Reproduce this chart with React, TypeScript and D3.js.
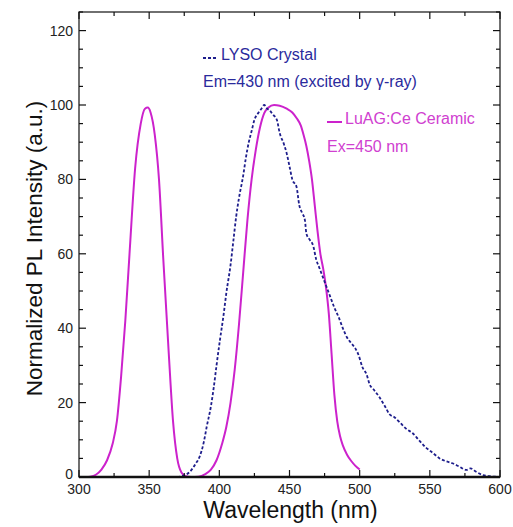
import React from 'react'
import * as d3 from 'd3'

// LuAG:Ce ceramic, excitation + emission trace (nm, normalized intensity)
const luagWave = [
  300, 305, 308, 312, 316, 320, 324, 327, 330, 333, 336, 340, 344, 347, 349, 351, 354, 357, 360, 364,
  367, 370, 373, 376, 380, 385, 390, 394, 398, 402, 405, 408, 411, 414, 417, 420, 423, 426, 429, 432,
  435, 439, 443, 448, 452, 455, 458, 460, 462, 464, 466, 468, 470, 472, 474, 476, 478, 480, 482, 484,
  486, 488, 491, 494, 497, 500,
]
const luagValue = [
  0, 0, 0.1, 0.6, 2, 4.5, 9, 15, 27, 42, 60, 83, 95, 99, 99.3, 98, 92, 80, 59, 33,
  15, 5, 1.2, 0.2, 0, 0.1, 0.8, 2, 4.5, 9, 13.5, 20, 29, 41, 55, 69, 80, 88, 94, 97.8,
  99.3, 100, 99.8, 99, 98, 96.5, 94.5, 92, 89, 85, 80, 73, 66, 60, 56, 51, 44, 33, 22, 15,
  11, 8.5, 6, 4.3, 3, 2,
]

// LYSO crystal, gamma-ray excited emission
const lysoWave = [
  370, 374, 379, 383, 386, 389, 391, 394, 396, 398, 400.5, 403, 405, 408, 410, 412, 414, 417, 419, 421,
  423, 425, 428, 430, 432, 434, 436, 438, 441, 443, 446, 448, 450, 452, 455, 457, 459, 461, 462, 464,
  467, 469, 471, 474, 476.5, 479, 482, 485, 488, 491, 494, 497, 499, 502, 505, 507, 510, 514, 518, 521,
  525, 529, 533, 538, 542, 547, 552, 557, 561, 566, 571, 576, 579, 583, 588, 593, 600,
]
const lysoValue = [
  0, 0.3, 1.4, 3.5, 5.5, 9.5, 13.5, 19, 24, 30, 37, 43.5, 49.5, 57, 63.5, 70, 75, 81, 86, 90,
  93, 96, 98, 99, 100, 99, 98.5, 97.5, 96, 92.5, 89.5, 87, 83.5, 80, 78, 73, 71, 69, 65.5, 64,
  62, 58.5, 56.5, 53.5, 51, 48.5, 45.5, 43, 40, 37.5, 36, 34.5, 33, 29.5, 27.5, 25, 23.5, 21.5, 19, 17,
  16, 14.5, 13, 11.7, 10, 8, 6.5, 5, 4.3, 3.7, 2.8, 1.9, 2.3, 1.4, 0.5, 0.2, 0,
]

const xTicks = [300, 350, 400, 450, 500, 550, 600]
const yTicks = [0, 20, 40, 60, 80, 100, 120]

const W = 513
const H = 527
const M = { left: 79, right: 13, top: 12, bottom: 50 }
const MAGENTA = '#cc22cc'
const NAVY = '#1e1e8c'
const FONT = 'Liberation Sans, Arial, sans-serif'

export default function App() {
  const x = d3.scaleLinear().domain([300, 600]).range([M.left, W - M.right])
  const y = d3.scaleLinear().domain([0, 125]).range([H - M.bottom, M.top])
  const x0 = x.range()[0]
  const x1 = x.range()[1]
  const y0 = y.range()[0]
  const y1 = y.range()[1]

  const line = d3
    .line<[number, number]>()
    .x((d) => x(d[0]))
    .y((d) => y(d[1]))
    .curve(d3.curveMonotoneX)

  const luag = luagWave.map((w, i) => [w, luagValue[i]] as [number, number])
  const lyso = lysoWave.map((w, i) => [w, lysoValue[i]] as [number, number])

  const xMinor = d3.range(300, 601, 25)
  const yMinor = d3.range(0, 126, 5)

  return (
    <div style={{ position: 'absolute', left: 0, top: 0 }}>
      <svg width={W} height={H} style={{ display: 'block', background: 'white' }} fontFamily={FONT}>
        {/* curves */}
        <path d={line(luag) || ''} fill="none" stroke={MAGENTA} strokeWidth={2} />
        <path
          d={line(lyso) || ''}
          fill="none"
          stroke={NAVY}
          strokeWidth={1.8}
          strokeDasharray="3,2"
        />

        {/* frame */}
        <rect x={x0} y={y1} width={x1 - x0} height={y0 - y1} fill="none" stroke="#111" strokeWidth={1.2} />
        <line x1={x0} x2={x1} y1={y0} y2={y0} stroke="#111" strokeWidth={2.5} />

        {/* x ticks (bottom and top, inward) */}
        {xMinor.map((v) => {
          const major = v % 50 === 0
          const len = major ? 7 : 4
          return (
            <g key={'xt' + v}>
              <line x1={x(v)} x2={x(v)} y1={y0} y2={y0 - len} stroke="#111" strokeWidth={1.2} />
              <line x1={x(v)} x2={x(v)} y1={y1} y2={y1 + len} stroke="#111" strokeWidth={1.2} />
            </g>
          )
        })}
        {xTicks.map((v) => (
          <text key={'xl' + v} x={x(v)} y={y0 + 17} fontSize={14} textAnchor="middle" fill="#222">
            {v}
          </text>
        ))}

        {/* y ticks (left and right, inward) */}
        {yMinor.map((v) => {
          const major = v % 20 === 0
          const len = major ? 7 : 4
          return (
            <g key={'yt' + v}>
              <line x1={x0} x2={x0 + len} y1={y(v)} y2={y(v)} stroke="#111" strokeWidth={1.2} />
              <line x1={x1} x2={x1 - len} y1={y(v)} y2={y(v)} stroke="#111" strokeWidth={1.2} />
            </g>
          )
        })}
        {yTicks.map((v) => (
          <text key={'yl' + v} x={x0 - 6} y={y(v) + (v === 0 ? 2 : 5)} fontSize={14} textAnchor="end" fill="#222">
            {v}
          </text>
        ))}

        {/* axis titles */}
        <text x={(x0 + x1) / 2 + 1} y={H - 9} fontSize={23} textAnchor="middle" fill="#111">
          Wavelength (nm)
        </text>
        <text
          transform={`translate(42, ${(y0 + y1) / 2 + 4}) rotate(-90)`}
          fontSize={22.5}
          textAnchor="middle"
          fill="#111"
        >
          Normalized PL Intensity (a.u.)
        </text>

        {/* legend */}
        <line x1={203} x2={218} y1={58} y2={58} stroke={NAVY} strokeWidth={2} strokeDasharray="3,2" />
        <text x={221} y={60} fontSize={16} fill="#2a2a9c">
          LYSO Crystal
        </text>
        <text x={203} y={87} fontSize={16} fill="#2a2a9c">
          Em=430 nm (excited by γ-ray)
        </text>
        <line x1={327} x2={342} y1={122} y2={122} stroke={MAGENTA} strokeWidth={2} />
        <text x={345} y={124} fontSize={16} fill="#d040d0">
          LuAG:Ce Ceramic
        </text>
        <text x={327} y={152} fontSize={16} fill="#d040d0">
          Ex=450 nm
        </text>
      </svg>
    </div>
  )
}
